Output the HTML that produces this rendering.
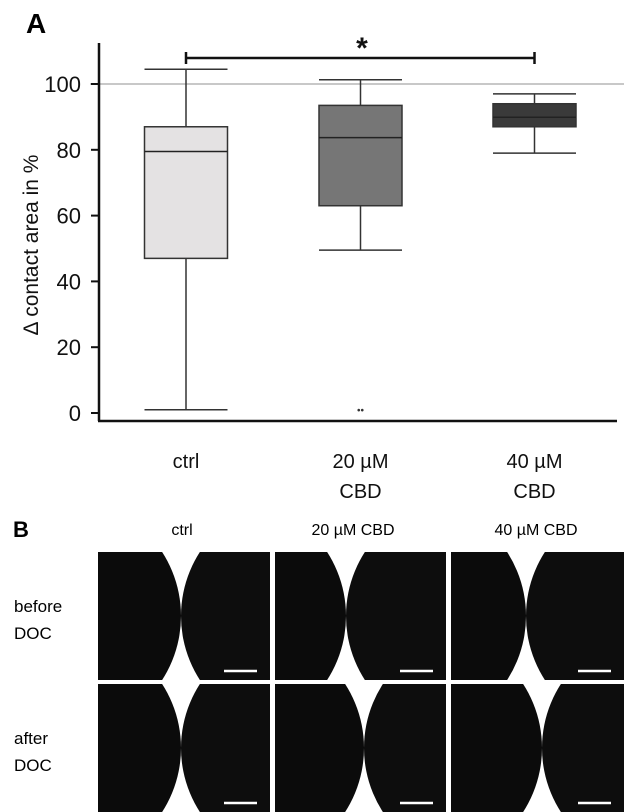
<!DOCTYPE html>
<html><head><meta charset="utf-8">
<style>
html,body{margin:0;padding:0;background:#fff;width:624px;height:812px;overflow:hidden;}
body{position:relative;font-family:"Liberation Sans",sans-serif;}
svg{display:block;}
svg text{font-family:"Liberation Sans",sans-serif;}
</style></head>
<body>
<svg id="chart" width="624" height="500" style="position:absolute;left:0;top:0">
  <text x="26" y="33" font-size="28" font-weight="bold">A</text>
  <g id="plot"></g>
</svg>
<svg id="imgs" width="624" height="312" style="position:absolute;left:0;top:500px">
  <text x="13" y="37" font-size="22" font-weight="bold">B</text>
  <text x="182" y="35" font-size="16" text-anchor="middle">ctrl</text>
  <text x="353" y="35" font-size="16" text-anchor="middle">20 µM CBD</text>
  <text x="536" y="35" font-size="16" text-anchor="middle">40 µM CBD</text>
  <text x="14" y="112" font-size="17">before</text>
  <text x="14" y="139" font-size="17">DOC</text>
  <text x="14" y="244" font-size="17">after</text>
  <text x="14" y="271" font-size="17">DOC</text>
  <g id="tiles"></g>
</svg>
<script>
const categories = ["ctrl", "20 µM|CBD", "40 µM|CBD"];
const whiskerLow = [1, 49.5, 79];
const q1Values = [47, 63, 87];
const medianValues = [79.5, 83.7, 89.9];
const q3Values = [87, 93.5, 94];
const whiskerHigh = [104.5, 101.3, 97];
const outlierValues = [null, 1, null];
const boxFills = ["#e4e2e3", "#767676", "#3a3a3a"];
const yTicks = [0, 20, 40, 60, 80, 100];

const NS = "http://www.w3.org/2000/svg";
const g = document.getElementById("plot");
const y = v => 413 - v * 3.29;
const xCenters = [186, 360.5, 534.5];
const x = i => xCenters[i];
const halfW = 41.5;
function mk(tag, attrs, parent) {
  const e = document.createElementNS(NS, tag);
  for (const k in attrs) e.setAttribute(k, attrs[k]);
  (parent || g).appendChild(e);
  return e;
}
let e;
e = mk("line", {x1: 90, x2: 624, y1: y(100), y2: y(100), stroke: "#c8c8c8", "stroke-width": 2});


e = mk("line", {x1: 99, x2: 99, y1: 43, y2: 421, stroke: "#111", "stroke-width": 2.5});


e = mk("line", {x1: 98, x2: 617, y1: 421, y2: 421, stroke: "#111", "stroke-width": 2.5});


yTicks.forEach(t => {
  e = mk("line", {x1: 91, x2: 99, y1: y(t), y2: y(t), stroke: "#111", "stroke-width": 2});
  
  
  e = mk("text", {x: 81, y: y(t) + 8, "font-size": 22, "text-anchor": "end", fill: "#111"});
  e.textContent = t;
  
  
});
e = mk("text", {x: 0, y: 0, "font-size": 21, "text-anchor": "middle", fill: "#111", transform: "translate(38,245) rotate(-90)"});
e.textContent = "Δ contact area in %";



categories.forEach((c, i) => {
  const cx = x(i);
  const sw = {stroke: "#333", "stroke-width": 1.5};
  e = mk("line", Object.assign({x1: cx, x2: cx, y1: y(whiskerHigh[i]), y2: y(q3Values[i])}, sw));
  
  
  e = mk("line", Object.assign({x1: cx, x2: cx, y1: y(q1Values[i]), y2: y(whiskerLow[i])}, sw));
  
  
  e = mk("line", Object.assign({x1: cx - halfW, x2: cx + halfW, y1: y(whiskerHigh[i]), y2: y(whiskerHigh[i])}, sw));
  
  
  e = mk("line", Object.assign({x1: cx - halfW, x2: cx + halfW, y1: y(whiskerLow[i]), y2: y(whiskerLow[i])}, sw));
  
  
  e = mk("rect", {x: cx - halfW, y: y(q3Values[i]), width: 2 * halfW, height: y(q1Values[i]) - y(q3Values[i]), fill: boxFills[i], stroke: "#333", "stroke-width": 1.5});
  
  
  e = mk("line", {x1: cx - halfW, x2: cx + halfW, y1: y(medianValues[i]), y2: y(medianValues[i]), stroke: "#222", "stroke-width": 1.5});
  
  
  if (outlierValues[i] !== null) {
    e = mk("text", {x: cx, y: y(outlierValues[i]) + 4, "font-size": 10, "text-anchor": "middle", fill: "#333"});
    e.textContent = "••";
    
    
  }
  const parts = c.split("|");
  parts.forEach((p, k) => {
    e = mk("text", {x: cx, y: 468 + k * 30, "font-size": 20, "text-anchor": "middle", fill: "#111"});
    e.textContent = p;
    
    
  });
});
e = mk("line", {x1: x(0), x2: x(2), y1: 58, y2: 58, stroke: "#111", "stroke-width": 2.5});


e = mk("line", {x1: x(0), x2: x(0), y1: 52, y2: 64, stroke: "#111", "stroke-width": 2.5});


e = mk("line", {x1: x(2), x2: x(2), y1: 52, y2: 64, stroke: "#111", "stroke-width": 2.5});


e = mk("text", {x: 362, y: 58, "font-size": 30, "font-weight": "bold", "text-anchor": "middle", fill: "#111"});
e.textContent = "*";



const tg = document.getElementById("tiles");
const cols = [[98, 172], [275, 171], [451, 173]];
const rows = [[52, 128], [184, 128]];
const touch = [[83, 71, 75], [83, 89, 91]];
rows.forEach((r, ri) => cols.forEach((c, ci) => {
  const ox = c[0], oy = r[0], w = c[1], h = r[1];
  const t = touch[ri][ci], R = 118, cy = oy + h / 2;
  const grp = document.createElementNS(NS, "g");
  
  
  tg.appendChild(grp);
  const id = "clip" + ri + ci;
  mk("clipPath", {id: id}, grp);
  mk("rect", {x: ox, y: oy, width: w, height: h}, grp.lastChild);
  const inner = mk("g", {"clip-path": "url(#" + id + ")"}, grp);
  mk("rect", {x: ox, y: oy, width: w, height: h, fill: "#fff"}, inner);
  mk("circle", {cx: ox + t - R, cy: cy, r: R, fill: "#0b0b0b"}, inner);
  mk("circle", {cx: ox + t + R, cy: cy, r: R, fill: "#0d0d0d"}, inner);
  const sb = mk("line", {x1: ox + w - 46, x2: ox + w - 13, y1: oy + h - 9, y2: oy + h - 9, stroke: "#fff", "stroke-width": 2.5}, grp);
  
  
}));
</script>
</body></html>
